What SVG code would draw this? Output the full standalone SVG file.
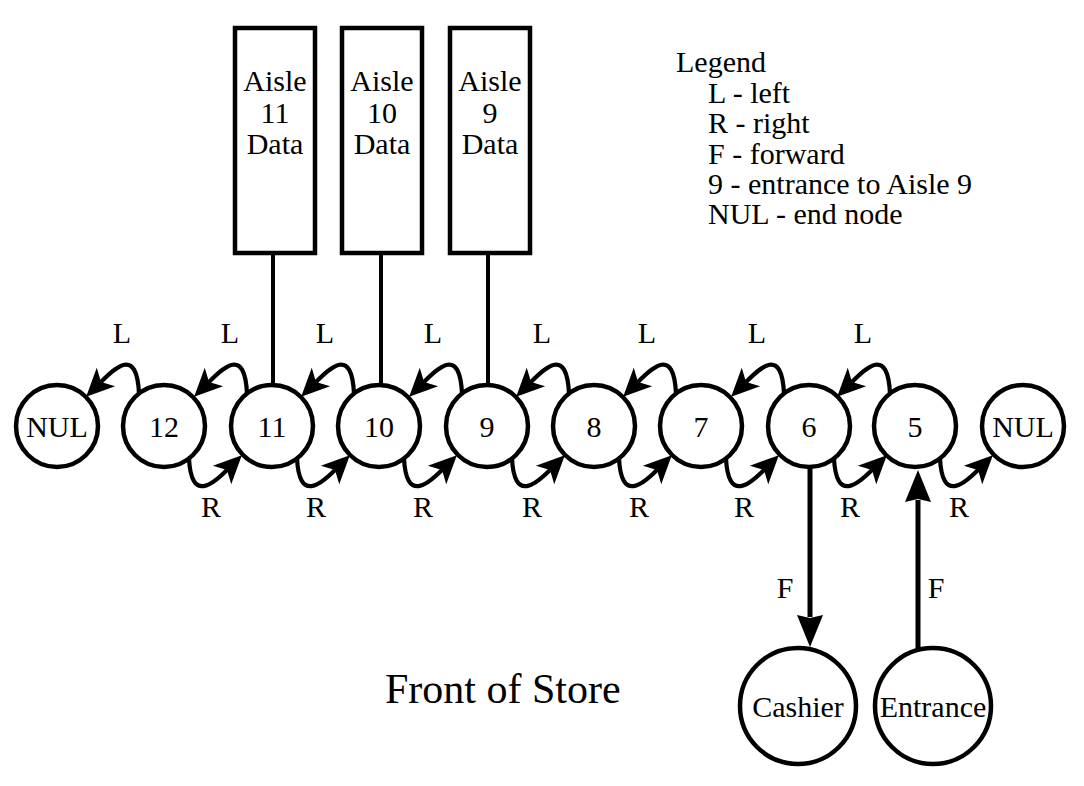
<svg xmlns="http://www.w3.org/2000/svg" width="1084" height="786" viewBox="0 0 1084 786">
<defs>
<style>
text{font-family:"Liberation Serif","Times New Roman",serif;font-size:30px;fill:#000}
.c{text-anchor:middle}
.node{fill:#fff;stroke:#000;stroke-width:4.5}
.box{fill:#fff;stroke:#000;stroke-width:4.5}
.arc{fill:none;stroke:#000;stroke-width:4.2}
.link{fill:none;stroke:#000;stroke-width:4}
.f{fill:none;stroke:#000;stroke-width:5}
</style>
<marker id="ah" markerUnits="userSpaceOnUse" markerWidth="34" markerHeight="32" viewBox="-2 -16 34 32" refX="7" refY="0" orient="auto">
<path d="M0,-13 L28,0 L0,13 L7,0 Z" fill="#000"/>
</marker>
<marker id="fh" markerUnits="userSpaceOnUse" markerWidth="40" markerHeight="32" viewBox="-2 -16 40 32" refX="2" refY="0" orient="auto">
<path d="M0,-13 L32,0 L0,13 L3,0 Z" fill="#000"/>
</marker>
</defs>
<rect width="1084" height="786" fill="#fff"/>

<g id="connectors">
<line class="link" x1="273" y1="255" x2="273" y2="386"/>
<line class="link" x1="381" y1="255" x2="381" y2="386"/>
<line class="link" x1="488" y1="255" x2="488" y2="386"/>
<g marker-end="url(#ah)">
<path class="arc" d="M139,394 C137,346 115,368 101,382"/>
<path class="arc" d="M247,394 C245,346 223,368 209,382"/>
<path class="arc" d="M354,394 C352,346 330,368 316,382"/>
<path class="arc" d="M462,394 C460,346 438,368 424,382"/>
<path class="arc" d="M569,394 C567,346 545,368 531,382"/>
<path class="arc" d="M676,394 C674,346 652,368 638,382"/>
<path class="arc" d="M784,394 C782,346 760,368 746,382"/>
<path class="arc" d="M890,394 C888,346 866,368 852,382"/>
</g>
<g marker-end="url(#ah)">
<path class="arc" d="M189,458 C191,503 213,484 227,470"/>
<path class="arc" d="M297,458 C299,503 321,484 335,470"/>
<path class="arc" d="M404,458 C406,503 428,484 442,470"/>
<path class="arc" d="M512,458 C514,503 536,484 550,470"/>
<path class="arc" d="M619,458 C621,503 643,484 657,470"/>
<path class="arc" d="M726,458 C728,503 750,484 764,470"/>
<path class="arc" d="M834,458 C836,503 858,484 872,470"/>
<path class="arc" d="M940,458 C942,503 964,484 978,470"/>
</g>
<line class="f" x1="810" y1="467" x2="810" y2="617" marker-end="url(#fh)"/>
<line class="f" x1="918" y1="648" x2="918" y2="500" marker-end="url(#fh)"/>
<g>
<text class="c" x="122" y="343">L</text>
<text class="c" x="230" y="343">L</text>
<text class="c" x="325" y="343">L</text>
<text class="c" x="433" y="343">L</text>
<text class="c" x="542" y="343">L</text>
<text class="c" x="647" y="343">L</text>
<text class="c" x="757" y="343">L</text>
<text class="c" x="863" y="343">L</text>
<text class="c" x="211" y="517">R</text>
<text class="c" x="316" y="517">R</text>
<text class="c" x="423" y="517">R</text>
<text class="c" x="532" y="517">R</text>
<text class="c" x="639" y="517">R</text>
<text class="c" x="744" y="517">R</text>
<text class="c" x="850" y="517">R</text>
<text class="c" x="959" y="517">R</text>
<text class="c" x="785" y="598">F</text>
<text class="c" x="936" y="598">F</text>
</g>
</g>

<g id="aisle11"><rect class="box" x="235" y="28" width="80" height="225"/><text class="c" x="275" y="91">Aisle</text><text class="c" x="275" y="123">11</text><text class="c" x="275" y="154">Data</text></g>
<g id="aisle10"><rect class="box" x="342" y="28" width="80" height="225"/><text class="c" x="382" y="91">Aisle</text><text class="c" x="382" y="123">10</text><text class="c" x="382" y="154">Data</text></g>
<g id="aisle9"><rect class="box" x="450" y="28" width="80" height="225"/><text class="c" x="490" y="91">Aisle</text><text class="c" x="490" y="123">9</text><text class="c" x="490" y="154">Data</text></g>

<g id="nulL"><circle class="node" cx="57" cy="426" r="41"/><text class="c" x="57" y="437">NUL</text></g>
<g id="n12"><circle class="node" cx="164" cy="426" r="41"/><text class="c" x="164" y="437">12</text></g>
<g id="n11"><circle class="node" cx="272" cy="426" r="41"/><text class="c" x="272" y="437">11</text></g>
<g id="n10"><circle class="node" cx="379" cy="426" r="41"/><text class="c" x="379" y="437">10</text></g>
<g id="n9"><circle class="node" cx="487" cy="426" r="41"/><text class="c" x="487" y="437">9</text></g>
<g id="n8"><circle class="node" cx="594" cy="426" r="41"/><text class="c" x="594" y="437">8</text></g>
<g id="n7"><circle class="node" cx="701" cy="426" r="41"/><text class="c" x="701" y="437">7</text></g>
<g id="n6"><circle class="node" cx="809" cy="426" r="41"/><text class="c" x="809" y="437">6</text></g>
<g id="n5"><circle class="node" cx="915" cy="426" r="41"/><text class="c" x="915" y="437">5</text></g>
<g id="nulR"><circle class="node" cx="1023" cy="426" r="41"/><text class="c" x="1023" y="437">NUL</text></g>

<g id="cashier"><circle class="node" cx="798" cy="706" r="58"/><text class="c" x="798" y="717">Cashier</text></g>
<g id="entrance"><circle class="node" cx="933" cy="706" r="58"/><text class="c" x="933" y="717">Entrance</text></g>

<g id="legend">
<text x="676" y="72">Legend</text>
<text x="708" y="103">L - left</text>
<text x="708" y="133">R - right</text>
<text x="708" y="164">F - forward</text>
<text x="708" y="194">9 - entrance to Aisle 9</text>
<text x="708" y="224">NUL - end node</text>
</g>

<text id="front" x="385" y="703" style="font-size:42px">Front of Store</text>
</svg>
